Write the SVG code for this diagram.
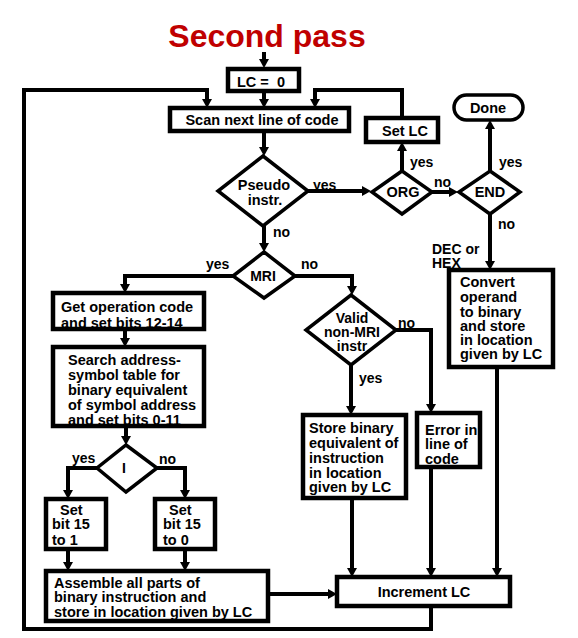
<svg xmlns="http://www.w3.org/2000/svg" width="578" height="638" viewBox="0 0 578 638">
<style>
.box{fill:none;stroke:#000;stroke-width:4.5}
.dia{fill:none;stroke:#000;stroke-width:3.5;stroke-linejoin:miter}
.pill{fill:none;stroke:#000;stroke-width:3.5}
.t{font-family:"Liberation Sans",Arial,sans-serif;font-size:14.5px;font-weight:bold;fill:#000}
.d{font-family:"Liberation Sans",Arial,sans-serif;font-size:14.5px;font-weight:bold;fill:#000}
.db{font-family:"Liberation Sans",Arial,sans-serif;font-size:14px;font-weight:bold;fill:#000}
.l{font-family:"Liberation Sans",Arial,sans-serif;font-size:14px;font-weight:bold;fill:#000}
.c{text-anchor:middle}
.conn path{fill:none;stroke:#000;stroke-width:4}
.title{font-family:"Liberation Sans",Arial,sans-serif;font-size:32px;font-weight:bold;fill:#c00000}
</style>
<defs>
<marker id="ah" markerUnits="userSpaceOnUse" markerWidth="10" markerHeight="10" refX="1" refY="5" orient="auto" viewBox="0 0 10 10">
<path d="M0,0 L9,5 L0,10 z" fill="#000"/>
</marker>
</defs>
<rect width="578" height="638" fill="#fff"/>
<text class="title c" x="267" y="47">Second pass</text>

<g id="connectors" class="conn">
<path d="M264,52 V60" marker-end="url(#ah)"/>
<path d="M264,91 V100" marker-end="url(#ah)"/>
<path d="M431,606 V629 H24 V90 H207 V100" marker-end="url(#ah)"/>
<path d="M402,118 V90 H315 V100" marker-end="url(#ah)"/>
<path d="M264,131 V148" marker-end="url(#ah)"/>
<path d="M308,191 H363" marker-end="url(#ah)"/>
<path d="M402,171 V150" marker-end="url(#ah)"/>
<path d="M432,192 H450" marker-end="url(#ah)"/>
<path d="M490,171 V128" marker-end="url(#ah)"/>
<path d="M490,214 V262" marker-end="url(#ah)"/>
<path d="M264,226 V244" marker-end="url(#ah)"/>
<path d="M233,276 H125 V285" marker-end="url(#ah)"/>
<path d="M295,276 H352 V287" marker-end="url(#ah)"/>
<path d="M125,329 V339" marker-end="url(#ah)"/>
<path d="M126,426 V437" marker-end="url(#ah)"/>
<path d="M97,468 H68 V491" marker-end="url(#ah)"/>
<path d="M157,468 H185 V491" marker-end="url(#ah)"/>
<path d="M68,549 V563" marker-end="url(#ah)"/>
<path d="M185,549 V563" marker-end="url(#ah)"/>
<path d="M268,594 H329" marker-end="url(#ah)"/>
<path d="M351,365 V407" marker-end="url(#ah)"/>
<path d="M396,330 H431 V405" marker-end="url(#ah)"/>
<path d="M352,498 V569" marker-end="url(#ah)"/>
<path d="M431,467 V569" marker-end="url(#ah)"/>
<path d="M497,367 V569" marker-end="url(#ah)"/>
</g>

<g id="labels">
<text class="l" x="313" y="190">yes</text>
<text class="l" x="410" y="167">yes</text>
<text class="l" x="434" y="187">no</text>
<text class="l" x="499" y="167">yes</text>
<text class="l" x="498" y="229">no</text>
<text class="l" x="432" y="254">DEC or</text>
<text class="l" x="432" y="268">HEX</text>
<text class="l" x="273" y="237">no</text>
<text class="l" x="206" y="269">yes</text>
<text class="l" x="301" y="269">no</text>
<text class="l" x="398" y="328">no</text>
<text class="l" x="359" y="383">yes</text>
<text class="l" x="72" y="463">yes</text>
<text class="l" x="159" y="464">no</text>
</g>

<g id="lc0">
<text class="t" x="237" y="87" xml:space="preserve">LC =  0</text>
<rect class="box" x="228" y="69" width="71" height="22"/>
</g>
<g id="scan">
<text class="t c" x="262" y="125">Scan next line of code</text>
<rect class="box" x="170" y="108" width="179" height="23"/>
</g>
<g id="setlc">
<text class="t" x="382" y="136">Set LC</text>
<rect class="box" x="366" y="118" width="72" height="24"/>
</g>
<g id="done">
<rect class="pill" x="454" y="95" width="69" height="25" rx="12.5"/>
<text class="t c" x="488" y="113">Done</text>
</g>
<g id="pseudo">
<polygon class="dia" points="263,156 308,191 263,226 218,191"/>
<text class="d c" x="264" y="190">Pseudo</text>
<text class="d c" x="265" y="205">instr.</text>
</g>
<g id="org">
<polygon class="dia" points="402,171 432,192 402,214 372,192"/>
<text class="d c" x="403" y="197">ORG</text>
</g>
<g id="end">
<polygon class="dia" points="490,171 520,192 490,214 459,192"/>
<text class="d c" x="490" y="197">END</text>
</g>
<g id="mri">
<polygon class="dia" points="264,252 295,276 264,298 233,276"/>
<text class="db c" x="263" y="281">MRI</text>
</g>
<g id="getop">
<text class="t" x="61" y="312">Get operation code</text>
<text class="t" x="61" y="328">and set bits 12-14</text>
<rect class="box" x="53" y="293" width="151" height="36"/>
</g>
<g id="search">
<text class="t" x="68" y="365">Search address-</text>
<text class="t" x="68" y="380">symbol table for</text>
<text class="t" x="68" y="395">binary equivalent</text>
<text class="t" x="68" y="410">of symbol address</text>
<text class="t" x="68" y="425">and set bits 0-11</text>
<rect class="box" x="53" y="347" width="151" height="79"/>
</g>
<g id="indirect">
<polygon class="dia" points="126,445 157,468 126,492 97,468"/>
<text class="db c" x="124" y="473">I</text>
</g>
<g id="set1">
<text class="t" x="60" y="515">Set</text>
<text class="t" x="52" y="529">bit 15</text>
<text class="t" x="52" y="545">to 1</text>
<rect class="box" x="46" y="499" width="60" height="50"/>
</g>
<g id="set0">
<text class="t" x="169" y="515">Set</text>
<text class="t" x="163" y="529">bit 15</text>
<text class="t" x="163" y="545">to 0</text>
<rect class="box" x="155" y="499" width="60" height="50"/>
</g>
<g id="assemble">
<text class="t" x="54" y="588">Assemble all parts of</text>
<text class="t" x="54" y="602">binary instruction and</text>
<text class="t" x="54" y="617">store in location given by LC</text>
<rect class="box" x="46" y="571" width="222" height="50"/>
</g>
<g id="valid">
<polygon class="dia" points="351,295 396,330 351,365 306,330"/>
<text class="db c" x="352" y="323">Valid</text>
<text class="db c" x="352" y="337">non-MRI</text>
<text class="db c" x="352" y="351">instr</text>
</g>
<g id="store">
<text class="t" x="309" y="433">Store binary</text>
<text class="t" x="309" y="448">equivalent of</text>
<text class="t" x="309" y="463">instruction</text>
<text class="t" x="309" y="478">in location</text>
<text class="t" x="309" y="492">given by LC</text>
<rect class="box" x="303" y="415" width="103" height="83"/>
</g>
<g id="error">
<text class="t" x="425" y="435">Error in</text>
<text class="t" x="425" y="449">line of</text>
<text class="t" x="425" y="464">code</text>
<rect class="box" x="417" y="413" width="63" height="54"/>
</g>
<g id="convert">
<text class="t" x="460" y="287">Convert</text>
<text class="t" x="460" y="302">operand</text>
<text class="t" x="460" y="317">to binary</text>
<text class="t" x="460" y="331">and store</text>
<text class="t" x="460" y="345">in location</text>
<text class="t" x="460" y="359">given by LC</text>
<rect class="box" x="449" y="270" width="104" height="97"/>
</g>
<g id="increment">
<text class="t c" x="424" y="597">Increment LC</text>
<rect class="box" x="337" y="577" width="173" height="29"/>
</g>
</svg>
